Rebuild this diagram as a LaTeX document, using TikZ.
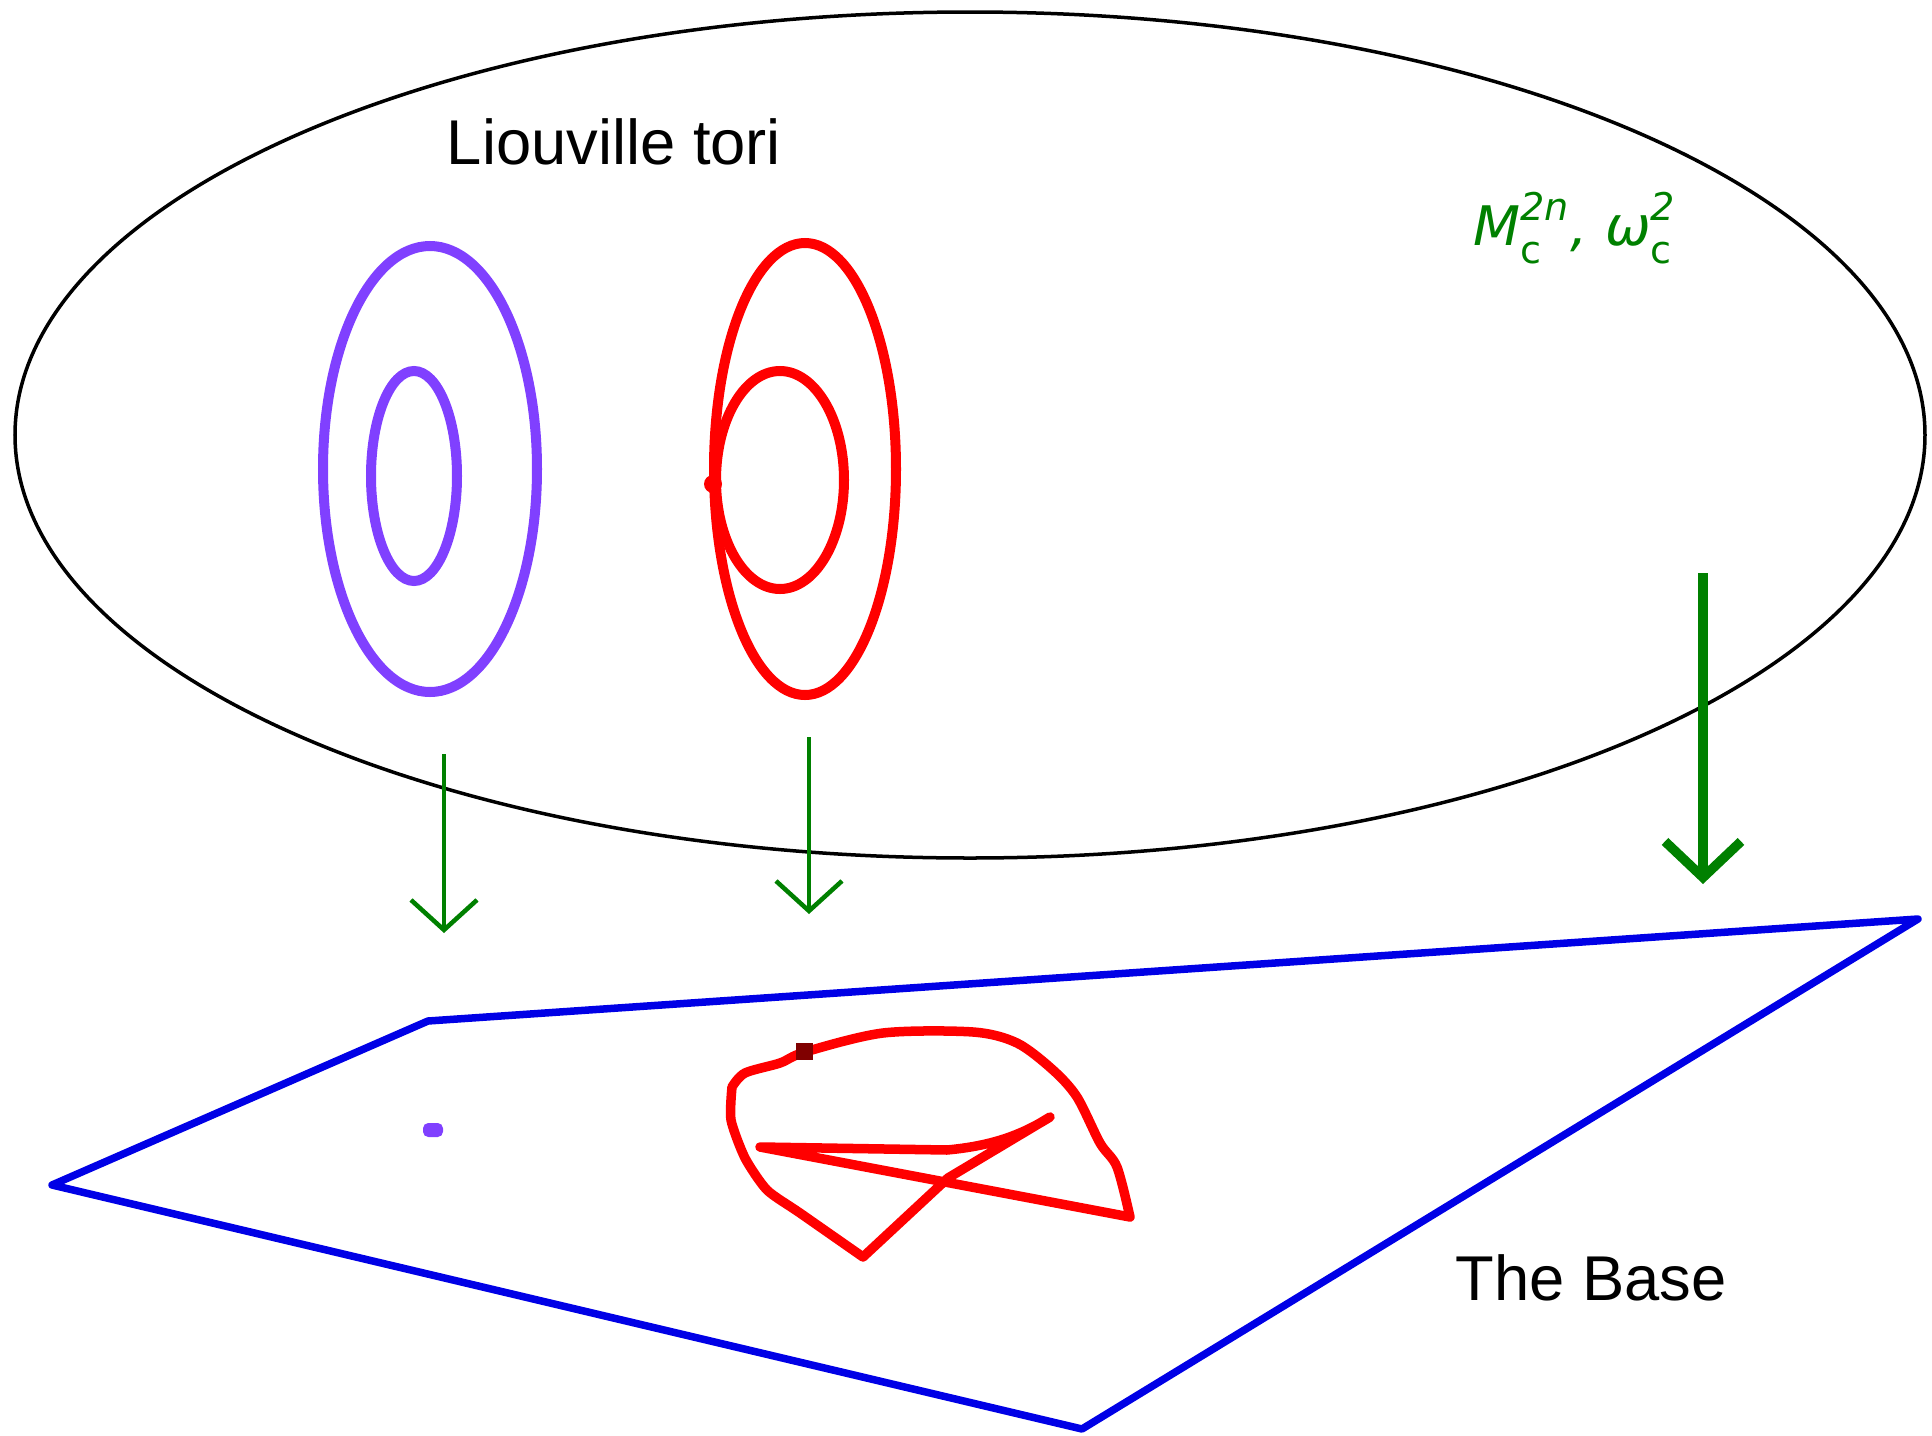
\documentclass[tikz,border=0pt]{standalone}
\usepackage{fontspec}
\setmainfont{Liberation Sans}
\newfontfamily\symbfont{DejaVu Sans}
\usetikzlibrary{arrows.meta}
\definecolor{projgreen}{RGB}{0,128,0}
\definecolor{toriviolet}{RGB}{128,64,255}
\definecolor{torired}{RGB}{255,0,0}
\definecolor{baseblue}{RGB}{0,0,230}
\definecolor{dotred}{RGB}{128,0,0}

\begin{document}
\begin{tikzpicture}[x=0.01cm,y=-0.01cm,
    thinproj/.style={draw=projgreen,line width=0.045cm,-{Straight Barb[length=0.3cm,width=0.66cm]}},
    thickproj/.style={draw=projgreen,line width=0.095cm,-{Straight Barb[length=0.36cm,width=0.76cm]}},
    torus/.style={line width=0.1cm},
    bigfont/.style={font=\fontsize{18}{22}\selectfont}]
        \useasboundingbox (0,0) rectangle (1932,1436);

        % phase space
        \draw[line width=0.035cm] (970,435) ellipse [x radius=955, y radius=423];
        \node[bigfont] (tori) at (614,142) {Liouville tori};
        \node[text=projgreen,font=\symbfont\fontsize{15.5}{18}\selectfont\itshape] (space) at (1575,228)
            {M\rlap{\raisebox{-0.35ex}{\textsubscript{\upshape c}}}\raisebox{0.2ex}{\textsuperscript{2n}}, ω\rlap{\raisebox{-0.35ex}{\textsubscript{\upshape c}}}\raisebox{0.2ex}{\textsuperscript{2}}};

        % tori
        \draw[torus,toriviolet] (430,469) ellipse [x radius=107, y radius=223];
        \draw[torus,toriviolet] (414,476) ellipse [x radius=43, y radius=105];
        \draw[torus,torired] (805,469) ellipse [x radius=91, y radius=226];
        \draw[torus,torired] (780,480) ellipse [x radius=64, y radius=109];
        \fill[torired] (713,484) circle [radius=9];

        % projections
        \coordinate (a1) at (444,754);
        \coordinate (b1) at (444,933);
        \coordinate (a2) at (809,737);
        \coordinate (b2) at (809,914);
        \coordinate (a3) at (1703,573);
        \coordinate (b3) at (1703,884);
        \path [thinproj] (a1) -- (b1);
        \path [thinproj] (a2) -- (b2);
        \path [thickproj] (a3) -- (b3);

        % the base
        \draw[baseblue,line width=0.075cm,line join=round] (52,1185) -- (428,1021) -- (1918,919) -- (1082,1429) -- cycle;
        \node[bigfont] (base) at (1591,1278) {The Base};
        \fill[toriviolet,rounded corners=1.5] (423,1123) rectangle (443,1137);
        \draw[torired,line width=0.095cm,line join=round,line cap=round]
            plot[smooth,tension=0.5] coordinates {(732,1087) (745,1073) (780,1063) (805,1052) (883,1033)
                (973,1032) (1017,1043) (1053,1070) (1077,1097) (1100,1143) (1117,1167) (1130,1217)}
            -- (760,1147) -- (947,1150) .. controls (990,1146) and (1020,1136) .. (1050,1117)
            -- (948,1178) -- (863,1257)
            plot[smooth,tension=0.4] coordinates {(863,1257) (800,1213) (767,1190) (745,1158) (731,1120) (732,1087)};
        \fill[dotred] (796,1043) rectangle (813,1060);
    \end{tikzpicture}
\end{document}
